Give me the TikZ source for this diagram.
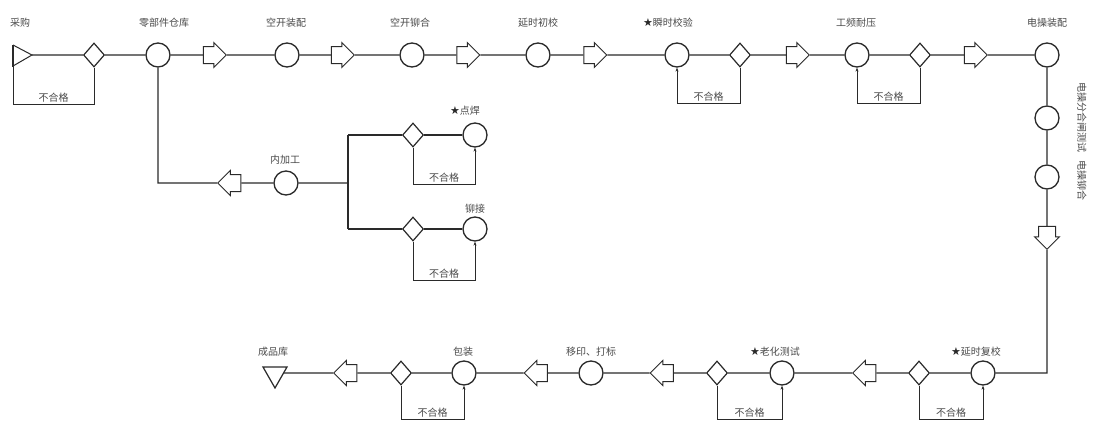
\documentclass[tikz,border=0pt]{standalone}
\usepackage{fontspec}
\newfontfamily\cjk{Noto Sans CJK SC}
\newfontfamily\dvs{DejaVu Sans}
\usetikzlibrary{shapes.geometric,shapes.arrows,arrows.meta}
\definecolor{linec}{HTML}{2A2A2A}
\definecolor{textc}{HTML}{4A4A4A}
\newcommand{\stm}{{\dvs\fontsize{11}{12}\selectfont\color{linec}★}}
\begin{document}
\begin{tikzpicture}[x=1pt,y=-1pt,
  proc/.style={circle, draw=linec, line width=1.3pt, minimum size=24pt, inner sep=0pt, fill=white},
  chk/.style={diamond, draw=linec, line width=1.2pt, minimum width=21pt, minimum height=24pt, inner sep=0pt, fill=white},
  blk/.style={single arrow, draw=linec, line width=1pt, inner sep=0pt, minimum height=23pt,
              single arrow head extend=4pt, single arrow head indent=0pt, fill=white},
  mainline/.style={draw=linec, line width=1.4pt},
  rej/.style={draw=linec, line width=0.7pt},
  rejar/.style={rej, -{Stealth[length=4pt,width=3pt]}},
  lab/.style={font=\cjk\fontsize{10}{12}\selectfont, text=textc, inner sep=1pt},
  rlab/.style={lab, above, inner sep=2pt}
]
\useasboundingbox (0,0) rectangle (1096,421);
\fill[white] (0,0) rectangle (1096,421);

% ---- top row ----
\draw[linec, line width=1pt] (13,45) -- (32,55) -- (13,66);
\draw[linec, line width=2pt] (13,44.5) -- (13,66.5);
\coordinate (t1) at (32,55);
\coordinate (t1b) at (13,66);
\node[chk] (d1) at (94,55) {};
\node[proc] (c1) at (158,55) {};
\node[blk] (a1) at (210.5,55) {\rule{0pt}{16pt}};
\node[proc] (c2) at (287,55) {};
\node[blk] (a2) at (338.5,55) {\rule{0pt}{16pt}};
\node[proc] (c3) at (412,55) {};
\node[blk] (a3) at (464,55) {\rule{0pt}{16pt}};
\node[proc] (c4) at (538,55) {};
\node[blk] (a4) at (591,55) {\rule{0pt}{16pt}};
\node[proc] (c5) at (677,55) {};
\node[chk] (d2) at (740,55) {};
\node[blk] (a5) at (793.5,55) {\rule{0pt}{16pt}};
\node[proc] (c6) at (857,55) {};
\node[chk] (d3) at (920,55) {};
\node[blk] (a6) at (971.5,55) {\rule{0pt}{16pt}};
\node[proc] (c7) at (1047,55) {};

% ---- right column ----
\node[proc] (c8) at (1047,118) {};
\node[proc] (c9) at (1047,177) {};
\node[blk, rotate=-90] (a7) at (1047,233.5) {\rule{0pt}{16pt}};
\coordinate (k1) at (1047,373);

% ---- bottom row ----
\node[proc] (c10) at (983,373) {};
\node[chk] (d4) at (919,373) {};
\node[blk, rotate=180] (a8) at (868.5,373) {\rule{0pt}{16pt}};
\node[proc] (c11) at (782,373) {};
\node[chk] (d5) at (717,373) {};
\node[blk, rotate=180] (a9) at (666,373) {\rule{0pt}{16pt}};
\node[proc] (c12) at (591,373) {};
\node[blk, rotate=180] (a10) at (540,373) {\rule{0pt}{16pt}};
\node[proc] (c13) at (464,373) {};
\node[chk] (d6) at (401,373) {};
\node[blk, rotate=180] (a11) at (349.5,373) {\rule{0pt}{16pt}};
\draw[linec, line width=1.2pt] (263,367) -- (287,367) -- (275,388) -- cycle;
\coordinate (t2) at (283.6,373);

% ---- branch ----
\coordinate (k2) at (158,183);
\node[blk, rotate=180] (a12) at (233.5,183) {\rule{0pt}{16pt}};
\node[proc] (c14) at (286,183) {};
\coordinate (k3) at (348,183);
\coordinate (k4) at (348,135);
\coordinate (k5) at (348,229);
\node[chk] (d7) at (413,135) {};
\node[proc] (c15) at (475,135) {};
\node[chk] (d8) at (413,229) {};
\node[proc] (c16) at (475,229) {};

% ---- main connectors ----
\draw[mainline] (t1) -- (d1) -- (c1) -- (a1) -- (c2) -- (a2) -- (c3) -- (a3) -- (c4)
  -- (a4) -- (c5) -- (d2) -- (a5) -- (c6) -- (d3) -- (a6) -- (c7);
\draw[mainline] (c7) -- (c8) -- (c9) -- (a7) -- (k1) -- (c10) -- (d4) -- (a8) -- (c11)
  -- (d5) -- (a9) -- (c12) -- (a10) -- (c13) -- (d6) -- (a11) -- (t2);
\draw[mainline] (c1) -- (k2) -- (a12) -- (c14) -- (k3);
\draw[mainline] (k4) -- (k5);
\draw[mainline] (k4) -- (d7) -- (c15);
\draw[mainline] (k5) -- (d8) -- (c16);

% ---- reject loops ----
\draw[rej] (t1b) -- ++(0,38) -| node[rlab, pos=0.25, yshift=-1pt] (r1) {不合格} (d1.south);
\draw[rejar] (d2.south) -- ++(0,36) -| node[rlab, pos=0.25] (r2) {不合格} (c5.south);
\draw[rejar] (d3.south) -- ++(0,36) -| node[rlab, pos=0.25] (r3) {不合格} (c6.south);
\draw[rejar] (d7.south) -- ++(0,37) -| node[rlab, pos=0.25] (r4) {不合格} (c15.south);
\draw[rejar] (d8.south) -- ++(0,39) -| node[rlab, pos=0.25] (r5) {不合格} (c16.south);
\draw[rejar] (d6.south) -- ++(0,34) -| node[rlab, pos=0.25] (r6) {不合格} (c13.south);
\draw[rejar] (d5.south) -- ++(0,34) -| node[rlab, pos=0.25] (r7) {不合格} (c11.south);
\draw[rejar] (d4.south) -- ++(0,34) -| node[rlab, pos=0.25] (r8) {不合格} (c10.south);

% ---- labels ----
\node[lab] (l1) at (20,23) {采购};
\node[lab] (l2) at (164,23) {零部件仓库};
\node[lab] (l3) at (286,23) {空开装配};
\node[lab] (l4) at (410,23) {空开铆合};
\node[lab] (l5) at (538,23) {延时初校};
\node[lab] (l6) at (668,23) {\stm 瞬时校验};
\node[lab] (l7) at (856,23) {工频耐压};
\node[lab] (l8) at (1047,23) {电操装配};
\node[lab, rotate=-90] (l9) at (1082,141) {电操分合闸测试\hspace{8pt}电操铆合};
\node[lab] (l10) at (285,160) {内加工};
\node[lab] (l11) at (465,111) {\stm 点焊};
\node[lab] (l12) at (475,209) {铆接};
\node[lab] (l13) at (273,352) {成品库};
\node[lab] (l14) at (463,352) {包装};
\node[lab] (l15) at (591,352) {移印、打标};
\node[lab] (l16) at (775,352) {\stm 老化测试};
\node[lab] (l17) at (976,352) {\stm 延时复校};
\end{tikzpicture}
\end{document}
